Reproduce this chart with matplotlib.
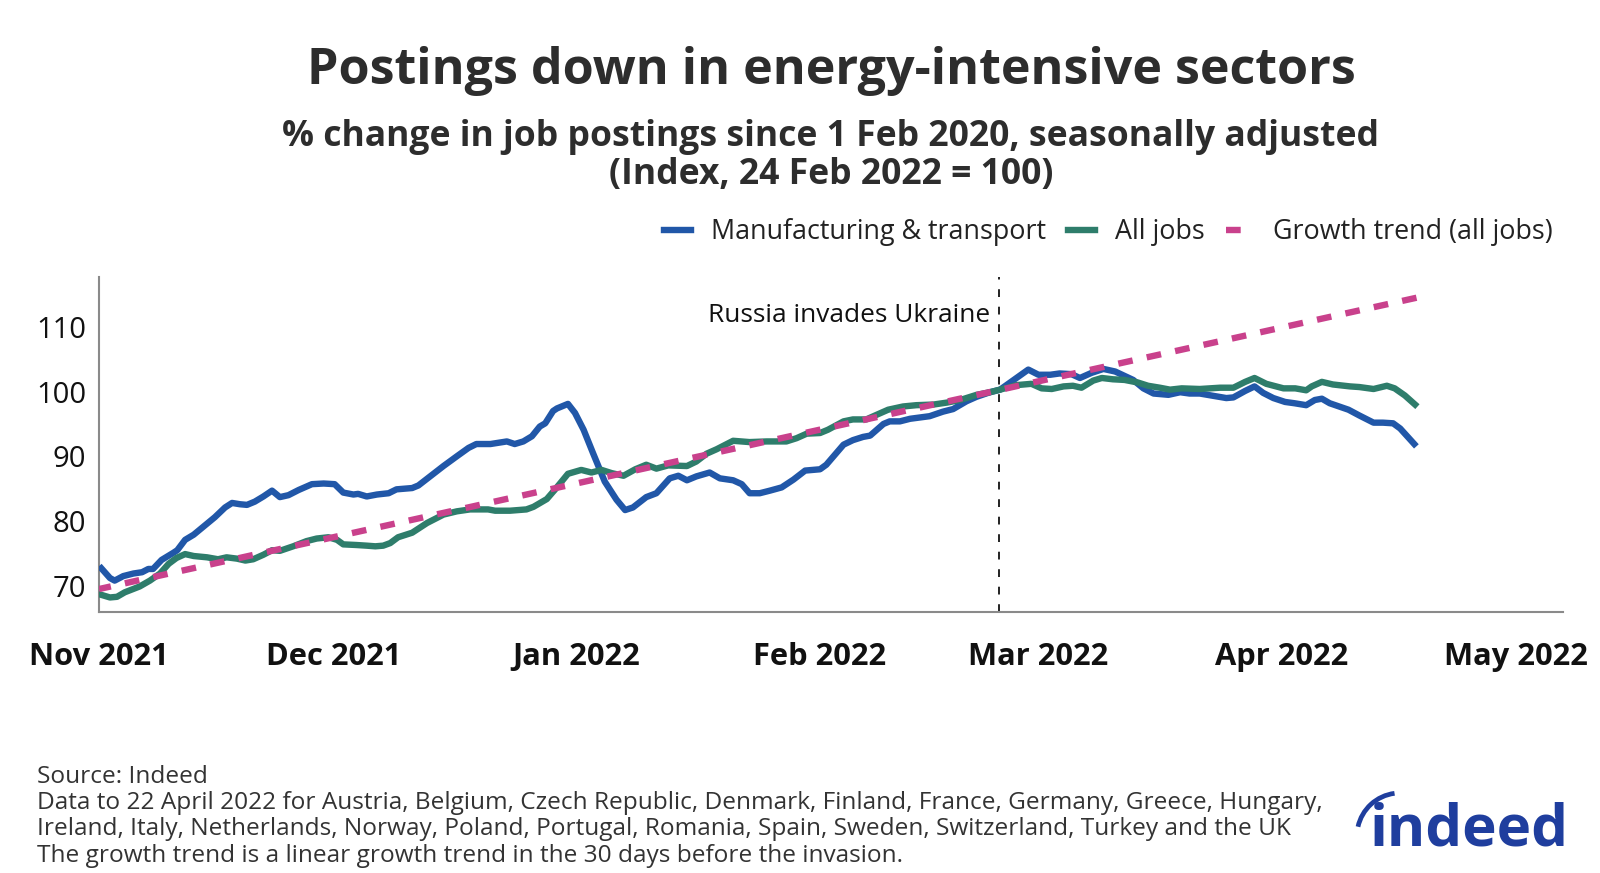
import numpy as np
import pandas as pd
import matplotlib
matplotlib.use("Agg")
import matplotlib.pyplot as plt
import matplotlib.dates as mdates
import matplotlib.patches as mpatches
from matplotlib.lines import Line2D

plt.rcParams["font.family"] = ["Open Sans", "Noto Sans", "DejaVu Sans"]

# ── Data ──────────────────────────────────────────────────────────────────────
START = pd.Timestamp("2021-11-01")
INVASION = pd.Timestamp("2022-02-24")

# days since 1 Nov 2021
blue_day = [0.3, 1.4, 2.0, 3.1, 4.4, 5.5, 6.3, 6.9, 8.0, 9.5, 10.0, 11.0, 12.1,
            13.3, 14.8, 16.1, 17.0, 18.0, 18.9, 19.9, 21.0, 22.1, 23.1, 24.2,
            25.5, 27.2, 28.7, 30.1, 31.2, 32.5, 33.1, 34.2, 35.5, 37.0, 38.0,
            40.0, 40.8, 42.3, 44.0, 45.7, 47.2, 48.2, 50.0, 52.1, 53.1, 54.2,
            55.3, 56.3, 57.0, 58.0, 58.5, 59.9, 60.8, 61.9, 63.1, 64.6, 66.1,
            67.2, 68.2, 69.9, 71.2, 72.9, 74.0, 75.1, 76.3, 78.0, 79.3, 81.0,
            82.1, 83.1, 84.4, 85.7, 87.2, 88.7, 90.2, 92.1, 92.9, 95.1, 96.3,
            97.6, 98.5, 100.2, 101.0, 102.3, 103.6, 104.9, 106.1, 107.8, 109.1,
            110.8, 112.1, 113.8, 115.1, 118.7, 120.0, 121.5, 122.7, 124.2,
            125.3, 126.8, 128.3, 129.8, 132.1, 133.4, 134.7, 136.6, 138.1,
            139.3, 140.6, 142.5, 144.0, 144.9, 146.4, 147.6, 148.7, 150.0,
            151.5, 152.7, 154.2, 155.3, 156.2, 157.2, 159.6, 161.0, 162.8,
            164.0, 165.3, 166.2, 168.0]
blue_val = [72.7, 71.2, 70.8, 71.5, 71.9, 72.1, 72.6, 72.6, 74.0, 75.1, 75.5,
            77.1, 77.9, 79.1, 80.6, 82.1, 82.8, 82.6, 82.5, 83.0, 83.8, 84.7,
            83.7, 84.0, 84.8, 85.7, 85.8, 85.7, 84.4, 84.1, 84.2, 83.8, 84.1,
            84.3, 84.9, 85.1, 85.5, 86.9, 88.5, 90.0, 91.3, 91.9, 91.9, 92.3,
            91.9, 92.3, 93.1, 94.6, 95.1, 97.0, 97.4, 98.1, 96.7, 94.1, 90.5,
            86.1, 83.3, 81.7, 82.1, 83.7, 84.3, 86.6, 87.0, 86.3, 86.9, 87.5,
            86.6, 86.3, 85.7, 84.3, 84.3, 84.7, 85.2, 86.4, 87.8, 88.0, 88.7,
            91.8, 92.5, 93.0, 93.2, 95.0, 95.4, 95.4, 95.8, 96.0, 96.2, 96.9,
            97.3, 98.5, 99.2, 99.9, 100.3, 103.4, 102.6, 102.6, 102.8, 102.7,
            102.1, 102.9, 103.5, 103.1, 101.8, 100.5, 99.7, 99.5, 99.9, 99.7,
            99.7, 99.3, 99.0, 99.1, 100.1, 100.8, 99.8, 99.0, 98.4, 98.2,
            97.9, 98.7, 98.9, 98.2, 97.2, 96.3, 95.2, 95.2, 95.1, 94.3, 91.9]

green_day = [0.3, 1.4, 2.3, 3.3, 5.2, 6.5, 7.8, 8.9, 9.9, 11.0, 12.1, 13.8,
             15.2, 16.3, 17.6, 18.7, 19.7, 21.0, 22.1, 23.1, 24.8, 26.5, 27.8,
             29.3, 30.4, 31.2, 32.9, 34.2, 35.3, 36.3, 37.2, 38.2, 40.0, 41.9,
             44.0, 45.7, 47.4, 49.7, 50.6, 52.5, 54.6, 55.5, 57.2, 58.2, 59.9,
             61.6, 62.9, 64.2, 65.5, 67.0, 68.5, 69.9, 71.2, 72.7, 75.1, 76.3,
             77.6, 78.9, 81.0, 83.1, 85.3, 87.8, 89.1, 90.4, 92.1, 93.1, 95.1,
             96.3, 98.0, 99.3, 100.8, 102.7, 104.4, 106.6, 108.3, 110.0, 112.1,
             113.8, 115.1, 117.2, 119.1, 120.4, 121.7, 123.2, 124.4, 125.5,
             127.0, 128.1, 129.5, 131.0, 132.7, 134.0, 135.5, 136.8, 138.3,
             140.6, 143.2, 144.9, 146.4, 147.6, 149.1, 151.3, 152.8, 154.2,
             154.9, 156.2, 157.6, 159.8, 161.0, 162.8, 164.5, 165.5, 166.8,
             168.1]
green_val = [68.6, 68.2, 68.3, 69.0, 69.9, 70.8, 71.9, 73.4, 74.3, 74.9, 74.6,
             74.4, 74.1, 74.4, 74.2, 73.9, 74.1, 74.8, 75.5, 75.4, 76.1, 76.9,
             77.3, 77.5, 77.1, 76.4, 76.3, 76.2, 76.1, 76.2, 76.6, 77.5, 78.2,
             79.7, 81.0, 81.5, 81.8, 81.8, 81.6, 81.6, 81.8, 82.2, 83.4, 84.8,
             87.3, 87.9, 87.5, 87.9, 87.4, 87.0, 88.0, 88.7, 88.1, 88.6, 88.5,
             89.2, 90.4, 91.1, 92.4, 92.2, 92.3, 92.3, 92.8, 93.5, 93.6, 94.1,
             95.4, 95.7, 95.7, 96.4, 97.2, 97.7, 97.9, 98.0, 98.3, 98.7, 99.5,
             99.9, 100.3, 101.0, 101.2, 100.5, 100.4, 100.8, 100.9, 100.6,
             101.7, 102.1, 101.9, 101.8, 101.4, 100.9, 100.6, 100.3, 100.5,
             100.4, 100.6, 100.6, 101.5, 102.1, 101.2, 100.5, 100.5, 100.2,
             100.8, 101.5, 101.1, 100.8, 100.7, 100.4, 100.9, 100.5, 99.4, 98.0]

trend_day = [0.0, 168.3]
trend_val = [69.5, 114.5]

footer_lines = [
    "Source: Indeed",
    "Data to 22 April 2022 for Austria, Belgium, Czech Republic, Denmark, Finland, France, Germany, Greece, Hungary,",
    "Ireland, Italy, Netherlands, Norway, Poland, Portugal, Romania, Spain, Sweden, Switzerland, Turkey and the UK",
    "The growth trend is a linear growth trend in the 30 days before the invasion.",
]

BLUE = "#2157a8"
GREEN = "#2e7d6b"
PINK = "#c9418c"
LW = 4.6
DASH = (2.3, 2.25)


def to_dates(days):
    return START + pd.to_timedelta(days, unit="D")


W, H = 1600, 873
fig = plt.figure(figsize=(W / 100, H / 100), dpi=100)
ax = fig.add_axes([99 / W, 1 - 611.7 / H, (1563 - 99) / W, (611.7 - 277) / H])

ax.plot(to_dates(blue_day), blue_val, color=BLUE, lw=LW, solid_joinstyle="round", zorder=3)
ax.plot(to_dates(green_day), green_val, color=GREEN, lw=LW, solid_joinstyle="round", zorder=4)
# offset so the pattern starts mid-dash and finishes on a dash, as in the original
ax.plot(to_dates(trend_day), trend_val, color=PINK, lw=LW,
        linestyle=(0.4, DASH), zorder=5)

ax.axvline(INVASION, color="#222222", lw=1.4, dashes=(4, 5), zorder=2)
ax.text(INVASION - pd.Timedelta(days=1.2), 111.8, "Russia invades Ukraine",
        ha="right", va="center", fontsize=18.9, color="#111111")

ax.set_xlim(START, pd.Timestamp("2022-05-07"))
ax.set_ylim(66.0, 117.7)
ax.set_yticks([70, 80, 90, 100, 110])
ax.xaxis.set_major_locator(mdates.MonthLocator())
ax.xaxis.set_major_formatter(mdates.DateFormatter("%b %Y"))
ax.tick_params(axis="y", length=0, pad=9, labelsize=21, labelcolor="#111111")
ax.tick_params(axis="x", length=0, pad=22, labelsize=22.2, labelcolor="#111111")
for lab in ax.get_xticklabels():
    lab.set_fontweight("bold")

for side in ["top", "right"]:
    ax.spines[side].set_visible(False)
for side in ["left", "bottom"]:
    ax.spines[side].set_color("#8a8a8a")
    ax.spines[side].set_linewidth(1.5)

# ── Titles ────────────────────────────────────────────────────────────────────
cx = 831 / W
fig.text(cx, 1 - 71 / H, "Postings down in energy-intensive sectors",
         ha="center", va="center", fontsize=36.2, fontweight="bold", color="#2d2d2d")
fig.text(cx, 1 - 137 / H, "% change in job postings since 1 Feb 2020, seasonally adjusted",
         ha="center", va="center", fontsize=25.6, fontweight="bold", color="#2d2d2d")
fig.text(cx, 1 - 175 / H, "(Index, 24 Feb 2022 = 100)",
         ha="center", va="center", fontsize=25.6, fontweight="bold", color="#2d2d2d")

# ── Legend ────────────────────────────────────────────────────────────────────
handles = [
    Line2D([], [], color=BLUE, lw=LW),
    Line2D([], [], color=GREEN, lw=LW),
    Line2D([], [], color=PINK, lw=LW, dashes=DASH),
]
labels = ["Manufacturing & transport", "All jobs", "Growth trend (all jobs)"]
leg = fig.legend(handles, labels, loc="center right", ncol=3,
                 bbox_to_anchor=(1553 / W, 1 - 232 / H), frameon=False,
                 fontsize=19.4, handlelength=1.0, handletextpad=0.75,
                 columnspacing=0.8, borderpad=0, borderaxespad=0)
for t in leg.get_texts():
    t.set_color("#222222")

# ── Footer ────────────────────────────────────────────────────────────────────
for i, line in enumerate(footer_lines):
    fig.text(37 / W, 1 - (777 + 26.2 * i) / H, line, ha="left", va="center",
             fontsize=17.6, color="#333333")

# Indeed logo
LOGO = "#1f3e9e"
fig.text(1370 / W, 1 - 845 / H, "indeed", ha="left", va="baseline",
         fontsize=42, fontweight="bold", color=LOGO)
fig.add_artist(mpatches.Arc((1400 / W, 1 - 836 / H), 2 * 43 / W, 2 * 43 / H,
                            theta1=94, theta2=158, lw=3.4, color=LOGO,
                            transform=fig.transFigure))

fig.savefig("out.png", dpi=100)
